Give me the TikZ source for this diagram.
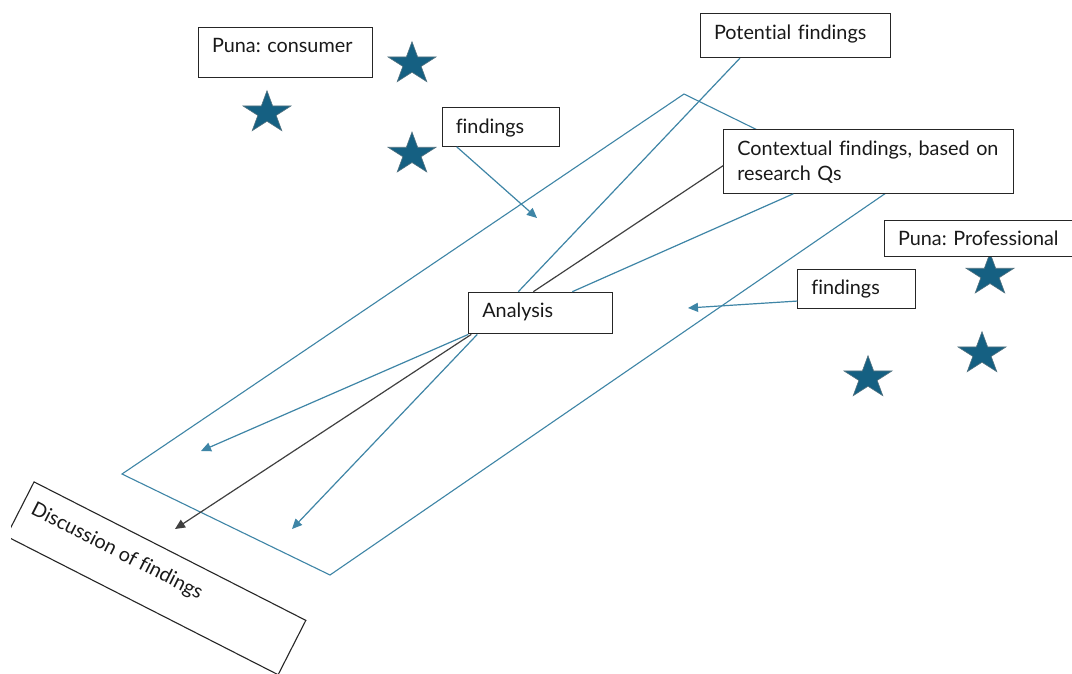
\documentclass[tikz,border=0pt]{standalone}
\usepackage{fontspec}
\setmainfont{Lato}[Ligatures={NoCommon}]
\frenchspacing
\usetikzlibrary{arrows.meta,calc}
\definecolor{accent}{HTML}{156082}
\definecolor{lineblue}{HTML}{3E85A6}
\begin{document}
\begin{tikzpicture}[x=1pt,y=-1pt,
  tbox/.style={draw=black!85, line width=1.1pt, fill=white, anchor=north west,
    inner xsep=13.5pt, inner ysep=0pt, align=left,
    font=\fontsize{19.8}{25}\selectfont, text=black!90},
  bl/.style={draw=lineblue, line width=1.2pt},
  bk/.style={draw=black!75, line width=1.2pt},
  tip/.style={-{Triangle[length=10pt,width=9pt]}},
  starshape/.style={fill=accent, draw=gray!60!accent, line width=0.6pt},
  pics/mystar/.style={code={
    \draw[starshape] (-90:25.2 and 22.1) -- (-54:9.63 and 8.44) -- (-18:25.2 and 22.1)
      -- (18:9.63 and 8.44) -- (54:25.2 and 22.1) -- (90:9.63 and 8.44)
      -- (126:25.2 and 22.1) -- (162:9.63 and 8.44) -- (198:25.2 and 22.1)
      -- (234:9.63 and 8.44) -- cycle;
  }}]
\useasboundingbox (0,0) rectangle (1072,673);
\clip (0,0) rectangle (1072,673);
\fill[white] (0,0) rectangle (1072,673);

% parallelogram
\draw[draw=lineblue, line width=1.1pt] (684,94) -- (886,193) -- (330,575) -- (122,474) -- cycle;

% stars
\path (412,63.8) pic {mystar};
\path (267,112.8) pic {mystar};
\path (412,154.1) pic {mystar};
\path (990,275.1) pic {mystar};
\path (982,353.8) pic {mystar};
\path (868,377.8) pic {mystar};

% boxes
\node[tbox, text width=147pt, text height=25pt, text depth=25pt] (cons) at (198,27) {Puna: consumer};
\node[tbox, text width=163pt, text height=26pt, text depth=18pt] (pot) at (700,13) {Potential findings};
\node[tbox, text width=90.3pt, text height=26.3pt, text depth=12.7pt] (findT) at (441.7,106.7) {findings};
\node[tbox, text width=262.4pt, text height=25.7pt, text depth=37.7pt] (ctx) at (723.3,129.3) {Contextual findings, based on\\research Qs};
\node[tbox, text width=173pt, text height=25pt, text depth=11pt] (prof) at (884,220) {Puna: Professional};
\node[tbox, text width=90.7pt, text height=24.7pt, text depth=13.7pt] (findR) at (797.3,269.3) {findings};
\node[tbox, text width=116.4pt, text height=25pt, text depth=16.6pt] (ana) at (468.3,291.7) {Analysis};

\begin{scope}
\clip (11,0) rectangle (1072,673);
\node[draw=black!85, line width=1.1pt, rotate=-27, minimum width=305pt, minimum height=61pt, inner sep=0pt] (disc) at (156.1,578.3) {};
\end{scope}
\node[rotate=-27, anchor=north west, inner xsep=11pt, inner ysep=0pt, text height=30.5pt, text depth=0pt,
  font=\fontsize{19.8}{25}\selectfont, text=black!90] (disctext) at (disc.north west) {Discussion of findings};

% connectors
\coordinate (tipFT) at (537,218);
\coordinate (tipFR) at (688,308);
\coordinate (tipA1) at (201,451);
\coordinate (tipA2) at (175,529);
\coordinate (tipA3) at (292,529);

\draw[bl,tip] ([xshift=15pt]findT.south west) -- (tipFT);
\draw[bl] ([xshift=40pt]pot.south west) -- ([xshift=50pt]ana.north west);
\draw[bk] ([yshift=-4pt]ctx.west) -- ([xshift=65pt]ana.north west);
\draw[bl] ([xshift=70pt]ctx.south west) -- ([xshift=104pt]ana.north west);
\draw[bl,tip] ([yshift=-12pt]findR.west) -- (tipFR);
\draw[bl,tip] (ana.south west) -- (tipA1);
\draw[bk,tip] ([xshift=3pt]ana.south west) -- (tipA2);
\draw[bl,tip] ([xshift=9pt]ana.south west) -- (tipA3);
\end{tikzpicture}
\end{document}
